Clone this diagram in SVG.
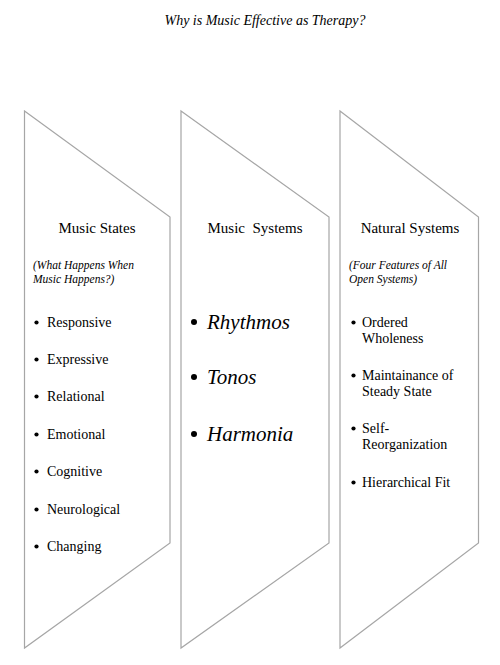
<svg xmlns="http://www.w3.org/2000/svg" width="500" height="665" viewBox="0 0 500 665">
<style>
.shape{fill:#fff;stroke:#a6a6a6;stroke-width:1.2}
.dot{fill:#000}
</style>
<rect width="500" height="665" fill="#fff"/>
<text x="265" y="25" font-family="Liberation Serif" font-size="14" font-style="italic" text-anchor="middle">Why is Music Effective as Therapy?</text>
<g id="music-states">
<path class="shape" d="M24.5,111 L170,217 L170,543 L24.5,648 Z"/>
<text x="97" y="233" font-family="Liberation Serif" font-size="15" text-anchor="middle">Music States</text>
<text x="33" y="269" font-family="Liberation Serif" font-size="11.5" font-style="italic">(What Happens When</text>
<text x="33" y="283" font-family="Liberation Serif" font-size="11.5" font-style="italic">Music Happens?)</text>
<circle class="dot" cx="36.5" cy="322.5" r="2.1"/><text x="47" y="327" font-family="Liberation Serif" font-size="14">Responsive</text>
<circle class="dot" cx="36.5" cy="359.5" r="2.1"/><text x="47" y="364" font-family="Liberation Serif" font-size="14">Expressive</text>
<circle class="dot" cx="36.5" cy="396.5" r="2.1"/><text x="47" y="401" font-family="Liberation Serif" font-size="14">Relational</text>
<circle class="dot" cx="36.5" cy="434.5" r="2.1"/><text x="47" y="439" font-family="Liberation Serif" font-size="14">Emotional</text>
<circle class="dot" cx="36.5" cy="471.5" r="2.1"/><text x="47" y="476" font-family="Liberation Serif" font-size="14">Cognitive</text>
<circle class="dot" cx="36.5" cy="509.5" r="2.1"/><text x="47" y="514" font-family="Liberation Serif" font-size="14">Neurological</text>
<circle class="dot" cx="36.5" cy="546.5" r="2.1"/><text x="47" y="551" font-family="Liberation Serif" font-size="14">Changing</text>
</g>
<g id="music-systems">
<path class="shape" d="M181,111 L329,217 L329,543 L181,648 Z"/>
<text x="255" y="233" font-family="Liberation Serif" font-size="15" text-anchor="middle" xml:space="preserve">Music  Systems</text>
<circle class="dot" cx="194" cy="322" r="3"/><text x="207" y="329" font-family="Liberation Serif" font-size="21" font-style="italic">Rhythmos</text>
<circle class="dot" cx="194" cy="377" r="3"/><text x="207" y="384" font-family="Liberation Serif" font-size="21" font-style="italic">Tonos</text>
<circle class="dot" cx="194" cy="434" r="3"/><text x="207" y="441" font-family="Liberation Serif" font-size="21" font-style="italic">Harmonia</text>
</g>
<g id="natural-systems">
<path class="shape" d="M340,111 L478.5,217 L478.5,543 L340,648 Z"/>
<text x="410" y="233" font-family="Liberation Serif" font-size="15" text-anchor="middle">Natural Systems</text>
<text x="349" y="269" font-family="Liberation Serif" font-size="11.5" font-style="italic">(Four Features of All</text>
<text x="349" y="283" font-family="Liberation Serif" font-size="11.5" font-style="italic">Open Systems)</text>
<circle class="dot" cx="353.5" cy="322.5" r="2.1"/><text x="362" y="327" font-family="Liberation Serif" font-size="14">Ordered</text><text x="362" y="343" font-family="Liberation Serif" font-size="14">Wholeness</text>
<circle class="dot" cx="353.5" cy="375.5" r="2.1"/><text x="362" y="380" font-family="Liberation Serif" font-size="14">Maintainance of</text><text x="362" y="396" font-family="Liberation Serif" font-size="14">Steady State</text>
<circle class="dot" cx="353.5" cy="428.5" r="2.1"/><text x="362" y="433" font-family="Liberation Serif" font-size="14">Self-</text><text x="362" y="449" font-family="Liberation Serif" font-size="14">Reorganization</text>
<circle class="dot" cx="353.5" cy="482.5" r="2.1"/><text x="362" y="487" font-family="Liberation Serif" font-size="14">Hierarchical Fit</text>
</g>
<g id="connectors"/>
</svg>
